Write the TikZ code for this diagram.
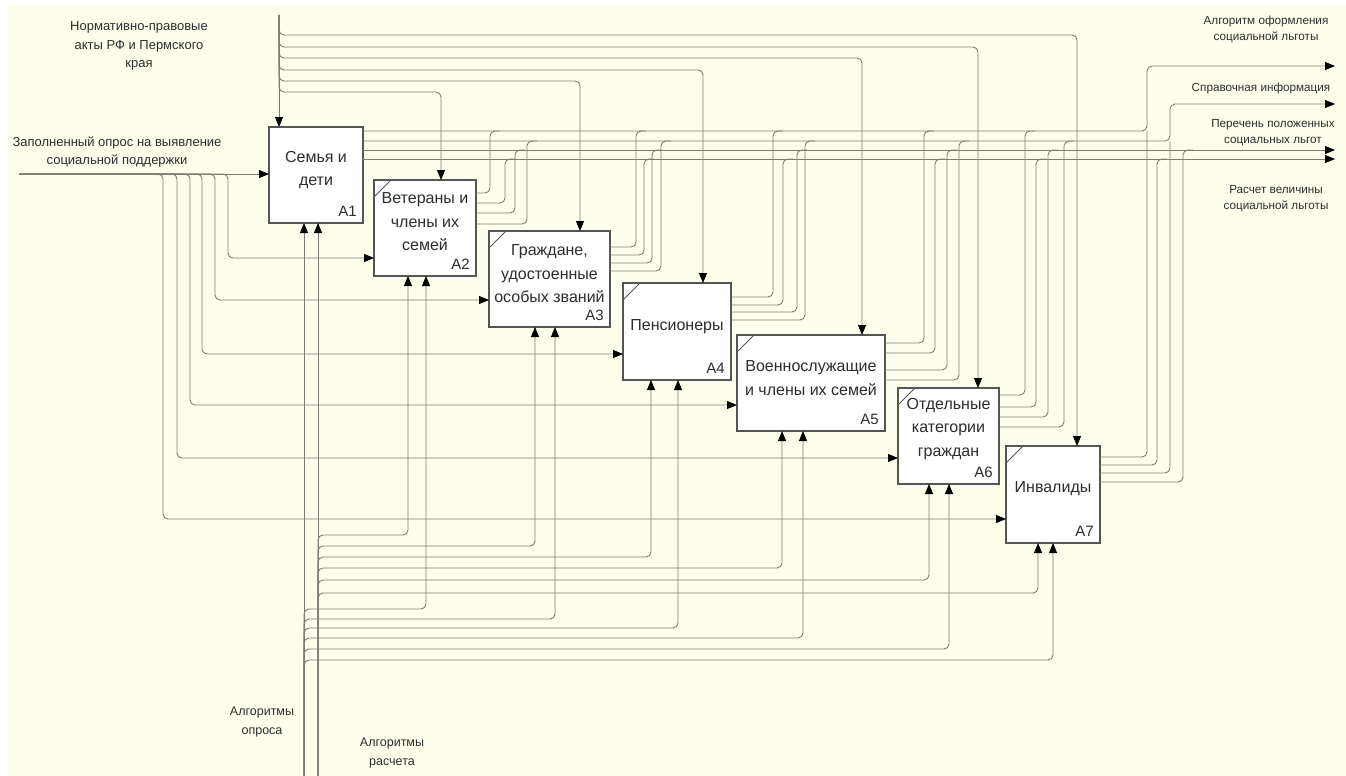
\documentclass[tikz,border=0pt]{standalone}
\usepackage{fontspec}
\setmainfont{Liberation Sans}
\usetikzlibrary{arrows.meta}
\definecolor{bgc}{RGB}{254,254,236}
\definecolor{lnc}{RGB}{125,125,116}
\definecolor{bxc}{RGB}{85,85,85}
\definecolor{txc}{RGB}{45,45,45}
\begin{document}
\begin{tikzpicture}[x=1pt,y=-1pt,
  box/.style={draw=bxc, line width=1.2pt, fill=white, inner sep=0pt, outer sep=0pt, anchor=north west},
  boxtext/.style={align=center, font=\fontsize{16}{23.5}\selectfont, text=txc, inner sep=0pt},
  idlabel/.style={font=\fontsize{15}{15}\selectfont, text=txc, inner sep=0pt, anchor=south east},
  lbl/.style={align=center, font=\fontsize{13}{18.5}\selectfont, text=txc, inner sep=0pt},
  mlbl/.style={align=center, font=\fontsize{12.5}{19}\selectfont, text=txc, inner sep=0pt},
  rlbl/.style={align=center, font=\fontsize{11.7}{16}\selectfont, text=txc, inner sep=0pt},
  flow/.style={draw=lnc, line width=0.9pt, rounded corners=5pt},
  arr/.style={flow, -{Triangle[length=10pt,width=8pt,color=black]}},
  cornermark/.style={draw=bxc, line width=0.8pt}
]
\fill[white] (0,0) rectangle (1346,776);
\fill[bgc] (8,5) rectangle (1346,776);
\useasboundingbox (0,0) rectangle (1346,776);

% boxes
\node[box, minimum width=94pt,  minimum height=96pt] (A1) at (269,127) {};
\node[box, minimum width=102pt, minimum height=96pt] (A2) at (374,180) {};
\node[box, minimum width=121pt, minimum height=96pt] (A3) at (489,231) {};
\node[box, minimum width=108pt, minimum height=97pt] (A4) at (623,283) {};
\node[box, minimum width=148pt, minimum height=96pt] (A5) at (737,335) {};
\node[box, minimum width=101pt, minimum height=96pt] (A6) at (898,388) {};
\node[box, minimum width=94pt,  minimum height=97pt] (A7) at (1006,446) {};

\foreach \b in {A2,A3,A4,A5,A6,A7}
  \draw[cornermark] ([yshift=-17pt]\b.north west) -- ([xshift=17pt]\b.north west);

\node[boxtext] (A1t) at ([yshift=5pt]A1.center) {Семья и\\дети};
\node[boxtext] (A2t) at ([yshift=6pt]A2.center) {Ветераны и\\члены их\\семей};
\node[boxtext] (A3t) at ([yshift=5pt]A3.center) {Граждане,\\удостоенные\\особых званий};
\node[boxtext] (A4t) at ([yshift=5pt]A4.center) {Пенсионеры};
\node[boxtext] (A5t) at ([yshift=5pt]A5.center) {Военнослужащие\\и члены их семей};
\node[boxtext] (A6t) at ([yshift=7pt]A6.center) {Отдельные\\категории\\граждан};
\node[boxtext] (A7t) at ([yshift=6pt]A7.center) {Инвалиды};

\foreach \b in {A1,A2,A3,A4,A5,A6,A7}
  \node[idlabel] (\b l) at ([xshift=-6pt,yshift=6pt]\b.south east) {\b};

% sources and sinks
\coordinate (inS) at (19,174);
\coordinate (ctlS) at (279,15);
\coordinate (mA) at (304,776);
\coordinate (mB) at (318,776);
\coordinate (o1) at (1335,66);
\coordinate (o2) at (1335,104);
\coordinate (o3) at (1335,150);
\coordinate (o4) at (1335,159);

% input
\draw[arr] (inS) -- (inS -| A1.west);
\foreach \b/\bx/\by in {A2/228/258, A3/215/300, A4/202/354, A5/190/405, A6/177/458, A7/163/519}
  \draw[arr] (inS) -| (\bx,\by) -- (\b.west |- 0,\by);

% control
\draw[arr] (ctlS) -- (ctlS |- A1.north);
\foreach \b/\cx/\cy in {A2/441/92, A3/580/81, A4/703/70, A5/862/58, A6/978/47, A7/1077/35}
  \draw[arr] (ctlS) |- (\cx,\cy) -- (\cx,0 |- \b.north);

% mechanisms
\draw[arr] (mA) -- (mA |- A1.south);
\draw[arr] (mB) -- (mB |- A1.south);
\foreach \b/\mx/\my in {A2/408/535, A3/535/546, A4/651/557, A5/782/568, A6/929/580, A7/1038/593}
  \draw[arr] (mB) |- (\mx,\my) -- (\mx,0 |- \b.south);
\foreach \b/\mx/\my in {A2/426/609, A3/555/619, A4/678/628, A5/803/638, A6/949/649, A7/1053/660}
  \draw[arr] (mA) |- (\mx,\my) -- (\mx,0 |- \b.south);

% outputs
\draw[arr] (A1.east |- 0,131) -| (1147,66) -- (o1);
\draw[arr] (A1.east |- 0,141) -| (1170,104) -- (o2);
\draw[arr] (A1.east |- 0,150) -- (o3);
\draw[arr] (A1.east |- 0,159) -- (o4);
\foreach \b/\ya/\yb/\yc/\yd/\xa/\xb/\xc/\xd in {
   A2/193/203/213/224/490/505/515/527,
   A3/247/255/263/271/636/644/652/661,
   A4/297/305/312/320/773/783/797/805,
   A5/343/353/370/380/924/935/947/959,
   A6/395/407/417/427/1025/1036/1048/1064}{
  \draw[flow] (\b.east |- 0,\ya) -| (\xa,131) -- ++(10,0);
  \draw[flow] (\b.east |- 0,\yb) -| (\xb,159) -- ++(10,0);
  \draw[flow] (\b.east |- 0,\yc) -| (\xc,150) -- ++(10,0);
  \draw[flow] (\b.east |- 0,\yd) -| (\xd,141) -- ++(10,0);
}
\draw[flow] (A7.east |- 0,457) -| (1147,131);
\draw[flow] (A7.east |- 0,465) -| (1157,159) -- ++(10,0);
\draw[flow] (A7.east |- 0,473) -| (1170,141);
\draw[flow] (A7.east |- 0,482) -| (1183,150) -- ++(10,0);

% labels
\node[lbl] (Lctl) at (139,46) {Нормативно-правовые\\акты РФ и Пермского\\края};
\node[lbl] (Lin) at (117,152) {Заполненный опрос на выявление\\социальной поддержки};
\node[rlbl] (Lo1) at (1266,29) {Алгоритм оформления\\социальной льготы};
\node[rlbl] (Lo2) at (1261,88) {Справочная информация};
\node[rlbl] (Lo3) at (1273,133) {Перечень положенных\\социальных льгот};
\node[rlbl] (Lo4) at (1276,199) {Расчет величины\\социальной льготы};
\node[mlbl] (Lm1) at (262,722) {Алгоритмы\\опроса};
\node[mlbl] (Lm2) at (392,753) {Алгоритмы\\расчета};
\end{tikzpicture}
\end{document}
